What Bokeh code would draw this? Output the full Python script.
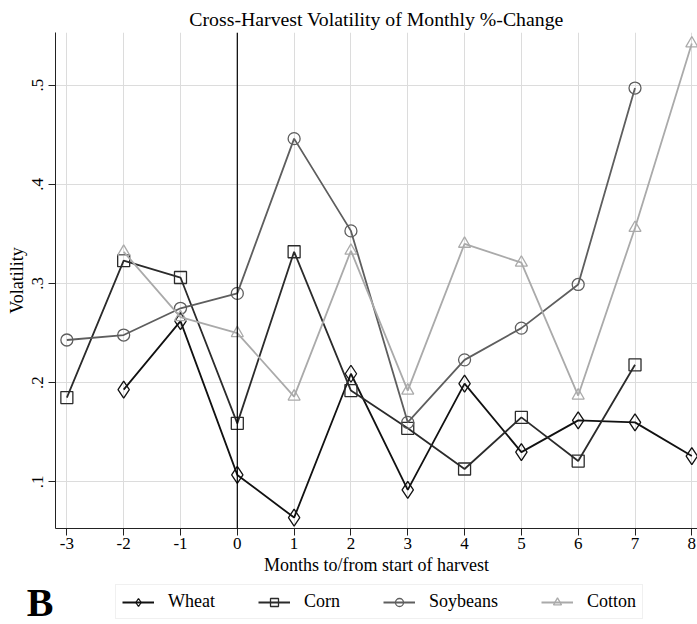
from bokeh.plotting import figure
from bokeh.layouts import column
from bokeh.models import (Span, Legend, LegendItem, FixedTicker, Range1d)
from bokeh.embed import file_html
from bokeh.resources import INLINE

months = [-3, -2, -1, 0, 1, 2, 3, 4, 5, 6, 7, 8]
month_labels = ["-3", "-2", "-1", "0", "1", "2", "3", "4", "5", "6", "7", "8"]
wheat_x = [-2, -1, 0, 1, 2, 3, 4, 5, 6, 7, 8]
wheat = [0.193, 0.262, 0.107, 0.064, 0.209, 0.092, 0.199, 0.130, 0.162, 0.160, 0.126]
corn_x = [-3, -2, -1, 0, 1, 2, 3, 4, 5, 6, 7]
corn = [0.185, 0.323, 0.306, 0.159, 0.332, 0.192, 0.154, 0.113, 0.165, 0.121, 0.218]
soy_x = [-3, -2, -1, 0, 1, 2, 3, 4, 5, 6, 7]
soybeans = [0.243, 0.248, 0.275, 0.290, 0.446, 0.353, 0.160, 0.223, 0.255, 0.299, 0.497]
cotton_x = [-2, -1, 0, 1, 2, 3, 4, 5, 6, 7, 8]
cotton = [0.332, 0.266, 0.250, 0.186, 0.333, 0.192, 0.340, 0.321, 0.187, 0.356, 0.542]
y_ticks = [0.1, 0.2, 0.3, 0.4, 0.5]
y_labels = [".1", ".2", ".3", ".4", ".5"]

FONT = "Liberation Serif"

p = figure(width=697, height=580, output_backend="svg", toolbar_location=None,
           x_range=Range1d(-3.2, 8.1), y_range=Range1d(0.053, 0.553),
           min_border_left=55, min_border_right=0, min_border_top=32,
           min_border_bottom=52)
p.outline_line_color = None
p.background_fill_color = "white"

p.title.text = "Cross-Harvest Volatility of Monthly %-Change"
p.title.text_font = FONT
p.title.text_font_size = "19.8px"
p.title.text_font_style = "normal"
p.title.align = "center"
p.title.text_color = "black"
p.title.standoff = 5

for ax in (p.xaxis[0], p.yaxis[0]):
    ax.axis_line_color = "#222222"
    ax.major_tick_line_color = "#222222"
    ax.minor_tick_line_color = None
    ax.major_tick_out = 7
    ax.major_tick_in = 0
    ax.major_label_standoff = 2
    ax.major_label_text_font = FONT
    ax.major_label_text_font_size = "17px"
    ax.major_label_text_color = "black"
    ax.axis_label_text_font = FONT
    ax.axis_label_text_font_size = "18px"
    ax.axis_label_text_font_style = "normal"
    ax.axis_label_text_color = "black"

p.xaxis.ticker = FixedTicker(ticks=months)
p.xaxis.major_label_overrides = {m: l for m, l in zip(months, month_labels)}
p.xaxis.axis_label = "Months to/from start of harvest"
p.xaxis.axis_label_standoff = 3
p.yaxis.ticker = FixedTicker(ticks=y_ticks)
p.yaxis.major_label_overrides = {t: l for t, l in zip(y_ticks, y_labels)}
p.yaxis.major_label_orientation = "vertical"
p.yaxis.major_label_standoff = 5
p.yaxis.axis_label = "Volatility"
p.yaxis.axis_label_standoff = 3

p.xgrid.grid_line_color = "#dcdcdc"
p.ygrid.grid_line_color = "#dcdcdc"
p.xgrid.ticker = FixedTicker(ticks=months)
p.ygrid.ticker = FixedTicker(ticks=y_ticks)

p.add_layout(Span(location=0, dimension="height", line_color="black", line_width=1.2))

series = [
    ("Wheat", wheat_x, wheat, "#111111", "diamond", 17),
    ("Corn", corn_x, corn, "#2b2b2b", "square", 12),
    ("Soybeans", soy_x, soybeans, "#5e5e5e", "circle", 12),
    ("Cotton", cotton_x, cotton, "#aaaaaa", "triangle", 12),
]

# bottom strip with legend and panel letter (its ranges keep the data out of view)
p2 = figure(width=697, height=44, output_backend="svg", toolbar_location=None,
            x_range=Range1d(100, 101), y_range=Range1d(100, 101),
            min_border=0, min_border_left=55, min_border_right=0,
            min_border_top=0, min_border_bottom=0)
p2.xaxis.visible = False
p2.grid.visible = False
p2.outline_line_color = None
ya = p2.yaxis[0]
ya.ticker = FixedTicker(ticks=[])
ya.axis_line_color = None
ya.major_tick_line_color = None
ya.minor_tick_line_color = None
ya.major_label_text_font_size = "0px"
ya.axis_label = "B"
ya.axis_label_orientation = "horizontal"
ya.axis_label_text_font = FONT
ya.axis_label_text_font_size = "40px"
ya.axis_label_text_font_style = "bold"
ya.axis_label_text_color = "black"
ya.axis_label_standoff = 2

items = []
for name, xs, ys, col, mk, sz in series:
    p.line(xs, ys, line_color=col, line_width=1.8)
    p.scatter(xs, ys, marker=mk, size=sz, line_color=col, line_width=1.3,
              fill_color="white", fill_alpha=0)
    lr = p2.line(xs, ys, line_color=col, line_width=1.8)
    sr = p2.scatter(xs, ys, marker=mk, size=sz, line_color=col, line_width=1.3,
                    fill_color="white", fill_alpha=0)
    items.append(LegendItem(label=name, renderers=[lr, sr]))

leg = Legend(items=items, orientation="horizontal", location=(60, 5),
             label_text_font=FONT, label_text_font_size="18px",
             label_text_color="black", glyph_width=32, glyph_height=20,
             spacing=43, padding=6, margin=0, label_standoff=14,
             border_line_color="#e2e2e2", background_fill_color="white")
p2.add_layout(leg, "center")

layout = column(p, p2, spacing=0)
open("out.html", "w").write(file_html(layout, INLINE))
